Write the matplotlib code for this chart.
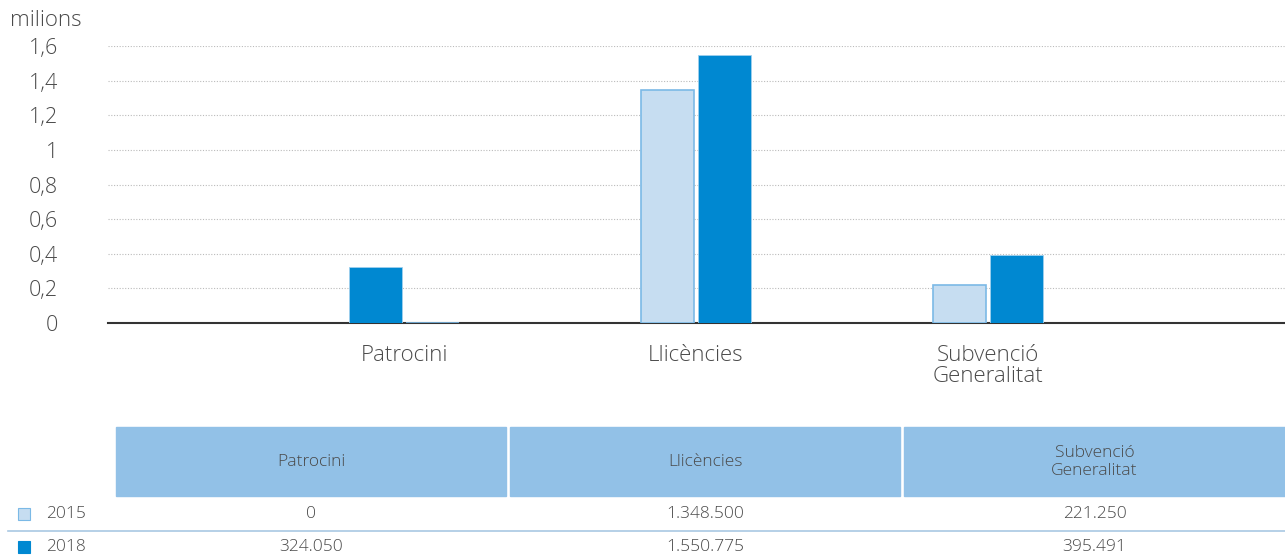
import numpy as np
import matplotlib.pyplot as plt
from matplotlib.patches import Rectangle

categories = ["Patrocini", "Llicències", "Subvenció\nGeneralitat"]
years = ["2015", "2018"]
values_2015 = [0, 1348500, 221250]
values_2018 = [324050, 1550775, 395491]
yticks = [0, 0.2, 0.4, 0.6, 0.8, 1, 1.2, 1.4, 1.6]
ytick_labels = ["0", "0,2", "0,4", "0,6", "0,8", "1", "1,2", "1,4", "1,6"]

LIGHT = "#c6ddf1"
LIGHT_EDGE = "#7bb9e6"
DARK = "#0088d1"
HEADER = "#92c1e7"
TXT = "#4a4a4a"

plt.rcParams['font.family'] = ['Open Sans', 'DejaVu Sans']
plt.rcParams['font.weight'] = 'light'

fig = plt.figure(figsize=(12.85, 5.6), dpi=100)
W, H = 1285.0, 560.0

ax = fig.add_axes([108 / W, 1 - 323 / H, 1 - 108 / W, (323 - 46) / H])

x = np.arange(len(categories))
off = 0.097
bw = 0.18
# the source draws the Patrocini pair in swapped order
pos_2015 = x + np.array([off, -off, -off])
pos_2018 = x + np.array([-off, off, off])

ax.bar(pos_2015, np.array(values_2015) / 1e6, width=bw, color=LIGHT,
       edgecolor=LIGHT_EDGE, linewidth=1.2, zorder=3)
ax.bar(pos_2018, np.array(values_2018) / 1e6, width=bw, color=DARK,
       edgecolor="#9fd0ee", linewidth=0.6, zorder=3)

ax.set_xlim(-1.014, 3.017)
ax.set_ylim(0, 1.6)
ax.set_yticks(yticks)
ax.set_yticklabels(ytick_labels)
ax.set_xticks(x)
ax.set_xticklabels(categories)
ax.tick_params(axis='y', length=0, pad=36, labelsize=15.5, labelcolor=TXT)
ax.tick_params(axis='x', length=0, pad=16, labelsize=16, labelcolor=TXT)
for lab in ax.get_xticklabels():
    lab.set_linespacing(1.0)
for s in ["top", "right", "left"]:
    ax.spines[s].set_visible(False)
ax.spines["bottom"].set_color("#333333")
ax.spines["bottom"].set_linewidth(1.5)
ax.spines["bottom"].set_zorder(2)
ax.grid(axis='y', linestyle=(0, (1, 1.5)), color="#bbbbbb", linewidth=0.8, zorder=0)
ax.set_axisbelow(True)

fig.text(10 / W, 1 - 20 / H, "milions", fontsize=16, color=TXT, va='center', ha='left')

# table below the chart
cols = [(116, 506), (510, 900), (904, 1285)]
for (x0, x1), name in zip(cols, categories):
    fig.patches.append(Rectangle((x0 / W, 1 - 496 / H), (x1 - x0) / W, 69 / H,
                                 transform=fig.transFigure, color=HEADER, zorder=1))
    fig.text((x0 + x1) / 2 / W, 1 - 462 / H, name, ha='center', va='center',
             fontsize=12.5, color=TXT, linespacing=1.1)

def fmt(v):
    return f"{v:,}".replace(",", ".")

rows_y = [514, 547]
row_vals = [values_2015, values_2018]
row_face = [LIGHT, DARK]
row_edge = [LIGHT_EDGE, DARK]
for ry, yr, vals, fc, ec in zip(rows_y, years, row_vals, row_face, row_edge):
    fig.patches.append(Rectangle((18 / W, 1 - (ry + 6) / H), 12 / W, 12 / H,
                                 transform=fig.transFigure, facecolor=fc,
                                 edgecolor=ec, linewidth=0.8))
    fig.text(46 / W, 1 - ry / H, yr, ha='left', va='center', fontsize=12.5, color=TXT)
    for (x0, x1), v in zip(cols, vals):
        fig.text((x0 + x1) / 2 / W, 1 - ry / H, fmt(v), ha='center', va='center',
                 fontsize=12.5, color=TXT)

fig.add_artist(plt.Line2D([8 / W, 1], [1 - 531 / H, 1 - 531 / H], color="#a9c8e3",
                          linewidth=1.2, transform=fig.transFigure))

fig.savefig("out.png", dpi=100)
